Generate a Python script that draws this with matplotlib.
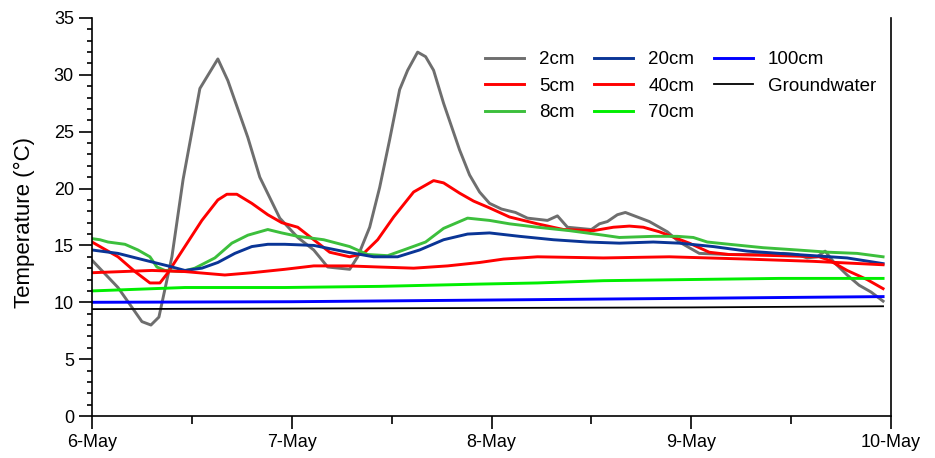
import matplotlib.pyplot as plt
from matplotlib.ticker import MultipleLocator

plt.rcParams['font.family'] = ['Liberation Sans', 'DejaVu Sans']

# time in days since 6-May 00:00
tick_pos = [0, 1, 2, 3, 4]
tick_labels = ['6-May', '7-May', '8-May', '9-May', '10-May']

t_2cm = [0, 0.13, 0.25, 0.295, 0.335, 0.40, 0.456, 0.54, 0.63, 0.68, 0.78, 0.84, 0.94, 1.03,
         1.11, 1.18, 1.29, 1.33, 1.39, 1.44, 1.49, 1.54, 1.58, 1.63, 1.67, 1.71, 1.76, 1.84,
         1.89, 1.94, 1.99, 2.05, 2.12, 2.18, 2.28, 2.33, 2.38, 2.50, 2.54, 2.58, 2.63, 2.67,
         2.73, 2.79, 2.88, 2.94, 3.04, 3.19, 3.36, 3.46, 3.53, 3.58, 3.63, 3.67, 3.71, 3.78,
         3.84, 3.90, 3.96]
v_2cm = [13.7, 11.3, 8.3, 8.0, 8.7, 14.0, 20.8, 28.8, 31.4, 29.5, 24.5, 21.0, 17.4, 15.7,
         14.6, 13.1, 12.9, 14.0, 16.6, 20.1, 24.3, 28.7, 30.4, 32.0, 31.6, 30.4, 27.5, 23.4,
         21.2, 19.7, 18.7, 18.2, 17.9, 17.4, 17.2, 17.6, 16.6, 16.4, 16.9, 17.1, 17.7, 17.9,
         17.5, 17.1, 16.2, 15.3, 14.3, 14.2, 14.2, 14.3, 14.2, 13.9, 14.0, 14.5, 13.6, 12.4,
         11.5, 10.9, 10.1]

t_5cm = [0, 0.13, 0.215, 0.29, 0.34, 0.38, 0.465, 0.55, 0.63, 0.675, 0.725, 0.80, 0.88, 0.95,
         1.03, 1.11, 1.19, 1.29, 1.36, 1.43, 1.51, 1.61, 1.71, 1.76, 1.84, 1.91, 1.99, 2.09,
         2.23, 2.36, 2.51, 2.61, 2.69, 2.76, 2.84, 2.93, 2.99, 3.09, 3.19, 3.44, 3.64, 3.69,
         3.78, 3.88, 3.96]
v_5cm = [15.3, 14.0, 12.7, 11.7, 11.7, 12.6, 14.9, 17.2, 19.0, 19.5, 19.5, 18.7, 17.7, 17.0,
         16.6, 15.5, 14.4, 14.0, 14.3, 15.5, 17.5, 19.7, 20.7, 20.5, 19.6, 18.9, 18.3, 17.5,
         16.9, 16.4, 16.3, 16.6, 16.7, 16.6, 16.2, 15.6, 15.2, 14.4, 14.2, 14.1, 14.0, 13.7,
         12.8, 12.0, 11.2]

t_8cm = [0, 0.04, 0.08, 0.165, 0.23, 0.29, 0.325, 0.365, 0.45, 0.515, 0.615, 0.70, 0.78, 0.88,
         0.95, 1.03, 1.16, 1.29, 1.38, 1.48, 1.56, 1.67, 1.76, 1.88, 1.99, 2.09, 2.23, 2.39,
         2.56, 2.64, 2.81, 2.93, 3.01, 3.08, 3.19, 3.36, 3.53, 3.69, 3.83, 3.96]
v_8cm = [15.6, 15.5, 15.3, 15.1, 14.6, 14.0, 13.1, 12.8, 12.7, 13.0, 13.9, 15.2, 15.9, 16.4,
         16.1, 15.8, 15.5, 14.9, 14.2, 14.1, 14.6, 15.3, 16.5, 17.4, 17.2, 16.9, 16.6, 16.3,
         15.9, 15.7, 15.8, 15.8, 15.7, 15.3, 15.1, 14.8, 14.6, 14.4, 14.3, 14.0]

t_20cm = [0, 0.13, 0.265, 0.38, 0.465, 0.55, 0.63, 0.715, 0.80, 0.88, 0.965, 1.11, 1.28, 1.41,
          1.53, 1.64, 1.76, 1.88, 1.99, 2.14, 2.31, 2.48, 2.64, 2.81, 2.94, 3.11, 3.28, 3.44,
          3.61, 3.78, 3.96]
v_20cm = [14.6, 14.3, 13.7, 13.2, 12.8, 13.0, 13.5, 14.3, 14.9, 15.1, 15.1, 15.0, 14.4, 14.0,
          14.0, 14.6, 15.5, 16.0, 16.1, 15.8, 15.5, 15.3, 15.2, 15.3, 15.2, 14.9, 14.5, 14.3,
          14.1, 13.9, 13.4]

t_40cm = [0, 0.30, 0.465, 0.665, 0.80, 0.965, 1.11, 1.28, 1.44, 1.61, 1.78, 1.94, 2.06, 2.23,
          2.56, 2.89, 3.28, 3.61, 3.96]
v_40cm = [12.6, 12.8, 12.7, 12.4, 12.6, 12.9, 13.2, 13.2, 13.1, 13.0, 13.2, 13.5, 13.8, 14.0,
          13.9, 14.0, 13.8, 13.6, 13.3]

t_70cm = [0, 0.465, 0.965, 1.44, 1.94, 2.23, 2.56, 2.99, 3.44, 3.96]
v_70cm = [11.0, 11.3, 11.3, 11.4, 11.6, 11.7, 11.9, 12.0, 12.1, 12.1]

t_100cm = [0, 1.0, 2.0, 3.0, 3.96]
v_100cm = [10.0, 10.05, 10.2, 10.35, 10.5]

t_gw = [0, 1.0, 2.0, 3.0, 3.96]
v_gw = [9.4, 9.45, 9.5, 9.55, 9.65]

fig = plt.figure(figsize=(9.35, 4.58), dpi=100)
ax = fig.add_axes([0.0984, 0.0917, 0.8546, 0.869])

lw = 2.1
l1, = ax.plot(t_2cm, v_2cm, c='#6e6e6e', lw=lw, label='2cm')
l2, = ax.plot(t_5cm, v_5cm, c='#ff0000', lw=lw, label='5cm')
l3, = ax.plot(t_8cm, v_8cm, c='#3cbf3c', lw=lw, label='8cm')
l4, = ax.plot(t_20cm, v_20cm, c='#0a3596', lw=lw, label='20cm')
l5, = ax.plot(t_40cm, v_40cm, c='#ff0000', lw=lw, label='40cm')
l6, = ax.plot(t_70cm, v_70cm, c='#00ee00', lw=lw, label='70cm')
l7, = ax.plot(t_100cm, v_100cm, c='#0000ff', lw=lw, label='100cm')
l8, = ax.plot(t_gw, v_gw, c='black', lw=1.3, label='Groundwater')

ax.set_xlim(0, 4)
ax.set_ylim(0, 35)
ax.set_xticks(tick_pos)
ax.set_xticklabels(tick_labels)
ax.xaxis.set_minor_locator(MultipleLocator(0.5))
ax.yaxis.set_major_locator(MultipleLocator(5))
ax.yaxis.set_minor_locator(MultipleLocator(1))

ax.spines['top'].set_visible(False)
for s in ['left', 'bottom', 'right']:
    ax.spines[s].set_linewidth(1.2)
ax.tick_params(which='major', direction='out', length=9.5, width=1.2, labelsize=13)
ax.tick_params(axis='y', which='minor', direction='out', length=3.8, width=1.2)
ax.tick_params(axis='x', which='minor', direction='out', length=5.5, width=1.2)

ax.set_ylabel('Temperature (°C)', fontsize=16)
ax.yaxis.set_label_coords(-0.071, 0.487)

ax.legend(handles=[l1, l2, l3, l4, l5, l6, l7, l8], ncol=3, frameon=False,
          loc='upper left', bbox_to_anchor=(0.4825, 0.936), borderaxespad=0,
          fontsize=13.5, handlelength=2.1, handletextpad=0.8,
          columnspacing=1.02, labelspacing=0.5)

fig.savefig('out.png', dpi=100)
